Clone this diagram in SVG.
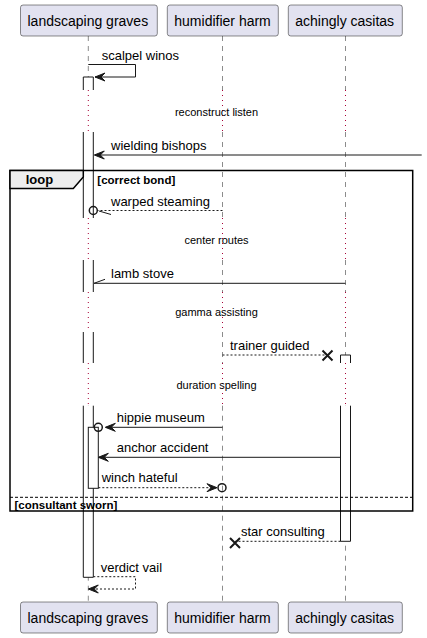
<svg xmlns="http://www.w3.org/2000/svg" width="427" height="638" viewBox="0 0 427 638">
<style>
text{font-family:"Liberation Sans",Arial,sans-serif;fill:#000}
.pt{font-size:14px}
.msg{font-size:13px}
.dl{font-size:11px}
.guard{font-size:11.5px;font-weight:bold}
.bold{font-weight:bold}
.box{fill:#E2E2F0;stroke:#181818;stroke-width:0.5}
.life{stroke:#181818;stroke-width:0.5;stroke-dasharray:5,5;fill:none}
.delay{stroke:#A80036;stroke-width:1;stroke-dasharray:1,4;fill:none}
.act{fill:#FFFFFF;stroke:none}
.actl{fill:none;stroke:#181818;stroke-width:1}
.ln{stroke:#181818;stroke-width:1;fill:none}
.dash{stroke:#181818;stroke-width:1;fill:none;stroke-dasharray:2,2}
.head{fill:#181818;stroke:#181818;stroke-width:1}
.circ{fill:none;stroke:#181818;stroke-width:1.5}
.x{stroke:#181818;stroke-width:2;fill:none}
.frame{fill:none;stroke:#000;stroke-width:1.5}
</style>

<g id="lifelines">
  <path class="life" d="M88.3,36V90M88.3,132V218M88.3,260V292M88.3,332V363M88.3,405.7V602"/>
  <path class="life" d="M222.5,36V90M222.5,132V218M222.5,260V292M222.5,332V363M222.5,405.7V602"/>
  <path class="life" d="M345.5,36V90M345.5,132V218M345.5,260V292M345.5,332V363M345.5,405.7V602"/>
  <path class="delay" d="M88.3,90V132M222.5,90V132M345.5,90V132"/>
  <path class="delay" d="M88.3,218V260M222.5,218V260M345.5,218V260"/>
  <path class="delay" d="M88.3,292V332M222.5,292V332M345.5,292V332"/>
  <path class="delay" d="M88.3,363V405.7M222.5,363V405.7M345.5,363V405.7"/>
</g>

<g id="p-landscaping-top">
  <rect class="box" x="20.5" y="5" width="136.8" height="31" rx="2.5"/>
  <text class="pt" x="27.5" y="25.5">landscaping graves</text>
</g>
<g id="p-humidifier-top">
  <rect class="box" x="167.3" y="5" width="111" height="31" rx="2.5"/>
  <text class="pt" x="174.3" y="25.5">humidifier harm</text>
</g>
<g id="p-achingly-top">
  <rect class="box" x="288.3" y="5" width="114" height="31" rx="2.5"/>
  <text class="pt" x="295.3" y="25.5">achingly casitas</text>
</g>
<g id="p-landscaping-bottom">
  <rect class="box" x="20.5" y="602" width="136.8" height="31" rx="2.5"/>
  <text class="pt" x="27.5" y="622.5">landscaping graves</text>
</g>
<g id="p-humidifier-bottom">
  <rect class="box" x="167.3" y="602" width="111" height="31" rx="2.5"/>
  <text class="pt" x="174.3" y="622.5">humidifier harm</text>
</g>
<g id="p-achingly-bottom">
  <rect class="box" x="288.3" y="602" width="114" height="31" rx="2.5"/>
  <text class="pt" x="295.3" y="622.5">achingly casitas</text>
</g>

<g id="activations">
  <rect class="act" x="83.3" y="77" width="10" height="13"/>
  <rect class="act" x="83.3" y="132" width="10" height="86"/>
  <rect class="act" x="83.3" y="260" width="10" height="32"/>
  <rect class="act" x="83.3" y="332" width="10" height="31"/>
  <rect class="act" x="83.3" y="405.7" width="10" height="171.6"/>
  <path class="actl" d="M83.3,90V77H93.3V90M83.3,132V218M93.3,132V218M83.3,260V292M93.3,260V292M83.3,332V363M93.3,332V363M83.3,405.7V577.3H93.3V405.7"/>
  <rect class="act" x="340.5" y="355" width="10" height="8"/>
  <rect class="act" x="340.5" y="405.7" width="10" height="135.6"/>
  <path class="actl" d="M340.5,363V355H350.5V363M340.5,405.7V541.3H350.5V405.7"/>
  <rect x="88.3" y="427.3" width="10" height="61" fill="#FFFFFF" stroke="#181818" stroke-width="1"/>
</g>

<g id="fragment-loop">
  <rect class="frame" x="10" y="170.5" width="402.7" height="340.5"/>
  <path d="M10,170.5H83.3V177L73.3,188.5H10Z" fill="#EEEEEE" stroke="#000" stroke-width="1.5"/>
  <text class="msg bold" x="25.7" y="183.5">loop</text>
  <text class="guard" x="97.3" y="183.5">[correct bond]</text>
  <path d="M10,497.3H412.7" stroke="#000" stroke-width="1" stroke-dasharray="3,2" fill="none"/>
  <text class="guard" x="14.5" y="508.5">[consultant sworn]</text>
</g>

<g id="delays">
  <text class="dl" x="216.5" y="115.5" text-anchor="middle">reconstruct listen</text>
  <text class="dl" x="216.5" y="243.5" text-anchor="middle">center routes</text>
  <text class="dl" x="216.5" y="315.5" text-anchor="middle">gamma assisting</text>
  <text class="dl" x="216.5" y="388.5" text-anchor="middle">duration spelling</text>
</g>

<g id="connectors">
  <!-- scalpel winos -->
  <path class="ln" d="M88.3,64.5H135.5V77H95"/>
  <polygon class="head" points="95,77 105,73 101,77 105,81"/>
  <text class="msg" x="101.7" y="59.5">scalpel winos</text>

  <!-- wielding bishops -->
  <path class="ln" d="M421.7,155H95"/>
  <polygon class="head" points="94.3,155 104.3,151 100.3,155 104.3,159"/>
  <text class="msg" x="111" y="150">wielding bishops</text>

  <!-- warped steaming -->
  <path class="dash" d="M222.5,210.5H97.3"/>
  <circle class="circ" cx="93.3" cy="210.5" r="4"/>
  <path class="ln" d="M99,211L111,214.5"/>
  <text class="msg" x="111" y="205.5">warped steaming</text>

  <!-- lamb stove -->
  <path class="ln" d="M345.5,283.3H94"/>
  <path class="ln" d="M94,283.3L105,279.3"/>
  <text class="msg" x="111" y="278.3">lamb stove</text>

  <!-- trainer guided -->
  <path class="dash" d="M222.5,355H327.5"/>
  <path class="x" d="M322.5,350.5L332.5,360.5M332.5,350.5L322.5,360.5"/>
  <text class="msg" x="230" y="349.5">trainer guided</text>

  <!-- hippie museum -->
  <path class="ln" d="M222.5,427.3H106"/>
  <polygon class="head" points="105.3,427.3 115.3,423.3 111.3,427.3 115.3,431.3"/>
  <circle class="circ" cx="98.3" cy="427.3" r="4"/>
  <text class="msg" x="116.7" y="422">hippie museum</text>

  <!-- anchor accident -->
  <path class="ln" d="M340.5,457.3H99"/>
  <polygon class="head" points="98.3,457.3 108.3,453.3 104.3,457.3 108.3,461.3"/>
  <text class="msg" x="116.7" y="452.3">anchor accident</text>

  <!-- winch hateful -->
  <path class="dash" d="M98.3,487.7H216"/>
  <polygon class="head" points="217,487.7 207,483.7 211,487.7 207,491.7"/>
  <circle class="circ" cx="222" cy="487.7" r="4"/>
  <text class="msg" x="101.7" y="481.5">winch hateful</text>

  <!-- star consulting -->
  <path class="dash" d="M340.5,541.3H235"/>
  <path class="x" d="M230,538L240,548M240,538L230,548"/>
  <text class="msg" x="241" y="536">star consulting</text>

  <!-- verdict vail -->
  <path class="dash" d="M93.3,576.7H135.5V589H89"/>
  <polygon class="head" points="88.3,589 98.3,585 94.3,589 98.3,593"/>
  <text class="msg" x="100.7" y="571.7">verdict vail</text>
</g>
</svg>
